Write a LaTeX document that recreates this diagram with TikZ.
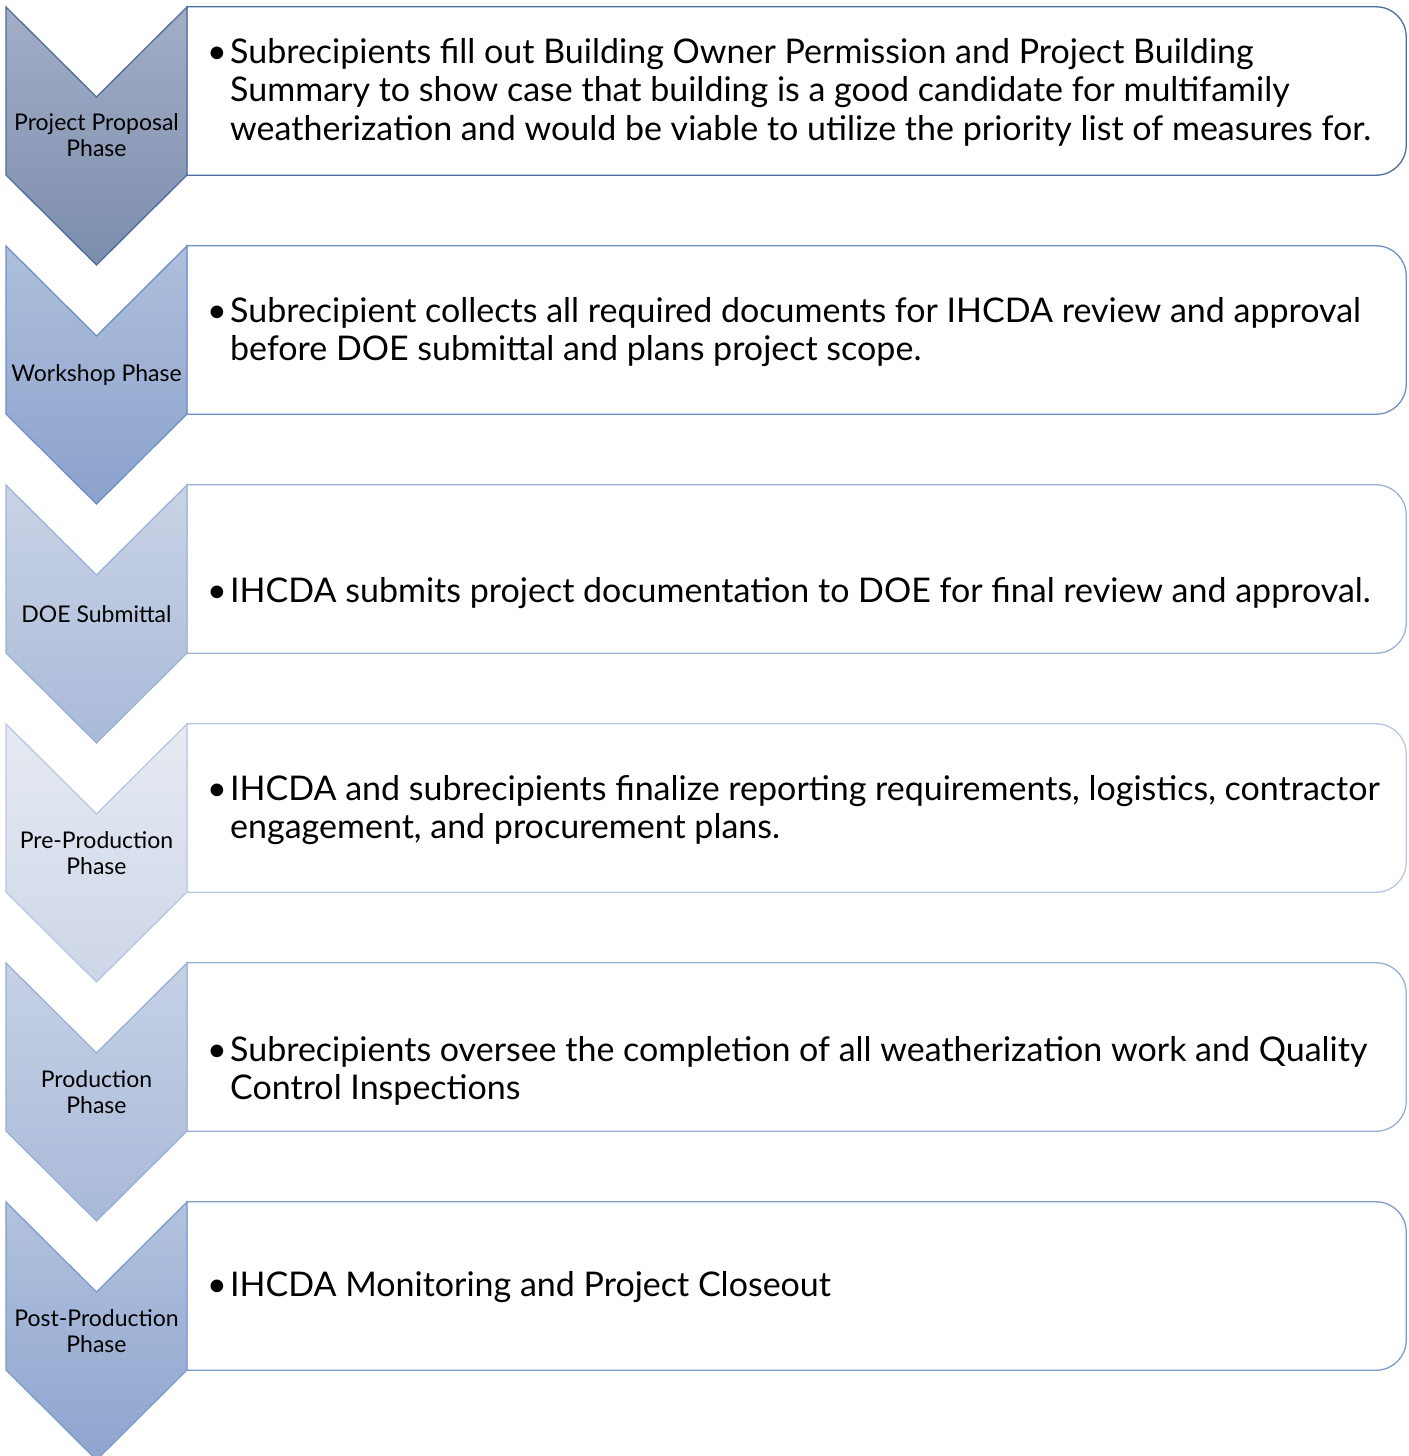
\documentclass[tikz,border=0pt]{standalone}
\usepackage{fontspec}
\setmainfont{Lato}
\usetikzlibrary{positioning}

% chevron fills (top / bottom) and outlines
\definecolor{chevAtop}{HTML}{A3AEC6}\definecolor{chevAbot}{HTML}{7C8DAE}\definecolor{lineA}{HTML}{4F6C9E}
\definecolor{chevBtop}{HTML}{AFBFDC}\definecolor{chevBbot}{HTML}{8BA2CC}\definecolor{lineB}{HTML}{6F8FC8}
\definecolor{chevCtop}{HTML}{C9D3E6}\definecolor{chevCbot}{HTML}{A9BAD8}\definecolor{lineC}{HTML}{9DB2D8}
\definecolor{chevDtop}{HTML}{E6EAF2}\definecolor{chevDbot}{HTML}{CDD6E8}\definecolor{lineD}{HTML}{B8C8E2}
\definecolor{chevEtop}{HTML}{C6D1E5}\definecolor{chevEbot}{HTML}{A8B9D8}\definecolor{lineE}{HTML}{99B0D6}
\definecolor{chevFtop}{HTML}{B3C2DE}\definecolor{chevFbot}{HTML}{8EA5CF}\definecolor{lineF}{HTML}{7F9BCB}

\newcommand{\phaseitem}[1]{\makebox[23pt][l]{\textbullet}\begin{tabular}[t]{@{}l@{}}#1\end{tabular}}

\begin{document}
\begin{tikzpicture}[x=1pt, y=1pt,
        chevron/.style={line width=1.3pt, line join=miter},
        phaselabel/.style={align=center, inner sep=0pt,
            font=\fontsize{23}{26}\selectfont},
        stepbox/.style={minimum width=1219pt, minimum height=168pt, inner sep=0pt},
        boxline/.style={line width=1.3pt, fill=white},
        steptext/.style={anchor=base west, inner sep=0pt,
            font=\fontsize{34}{38.5}\selectfont}]
        \useasboundingbox (0,0) rectangle (1408,-1456);
        %% Boxes
        \node [stepbox] at (796.5,-91) (b1) {};
        \node [stepbox] at (796.5,-330) (b2) {};
        \node [stepbox] at (796.5,-569) (b3) {};
        \node [stepbox] at (796.5,-808) (b4) {};
        \node [stepbox] at (796.5,-1047) (b5) {};
        \node [stepbox] at (796.5,-1286) (b6) {};
        \draw [boxline, draw=lineA] (b1.north west) -- ([xshift=-30pt]b1.north east) arc[start angle=90, end angle=0, radius=30pt]
            -- ([yshift=30pt]b1.south east) arc[start angle=0, end angle=-90, radius=30pt] -- (b1.south west) -- cycle;
        \draw [boxline, draw=lineB] (b2.north west) -- ([xshift=-30pt]b2.north east) arc[start angle=90, end angle=0, radius=30pt]
            -- ([yshift=30pt]b2.south east) arc[start angle=0, end angle=-90, radius=30pt] -- (b2.south west) -- cycle;
        \draw [boxline, draw=lineC] (b3.north west) -- ([xshift=-30pt]b3.north east) arc[start angle=90, end angle=0, radius=30pt]
            -- ([yshift=30pt]b3.south east) arc[start angle=0, end angle=-90, radius=30pt] -- (b3.south west) -- cycle;
        \draw [boxline, draw=lineD] (b4.north west) -- ([xshift=-30pt]b4.north east) arc[start angle=90, end angle=0, radius=30pt]
            -- ([yshift=30pt]b4.south east) arc[start angle=0, end angle=-90, radius=30pt] -- (b4.south west) -- cycle;
        \draw [boxline, draw=lineE] (b5.north west) -- ([xshift=-30pt]b5.north east) arc[start angle=90, end angle=0, radius=30pt]
            -- ([yshift=30pt]b5.south east) arc[start angle=0, end angle=-90, radius=30pt] -- (b5.south west) -- cycle;
        \draw [boxline, draw=lineF] (b6.north west) -- ([xshift=-30pt]b6.north east) arc[start angle=90, end angle=0, radius=30pt]
            -- ([yshift=30pt]b6.south east) arc[start angle=0, end angle=-90, radius=30pt] -- (b6.south west) -- cycle;
        %% Chevrons
        \path [chevron, draw=lineA, top color=chevAtop, bottom color=chevAbot]
            (6,-7) -- (96.5,-97) -- (187,-7) -- (187,-175) -- (96.5,-265) -- (6,-175) -- cycle;
        \path [chevron, draw=lineB, top color=chevBtop, bottom color=chevBbot]
            (6,-246) -- (96.5,-336) -- (187,-246) -- (187,-414) -- (96.5,-504) -- (6,-414) -- cycle;
        \path [chevron, draw=lineC, top color=chevCtop, bottom color=chevCbot]
            (6,-485) -- (96.5,-575) -- (187,-485) -- (187,-653) -- (96.5,-743) -- (6,-653) -- cycle;
        \path [chevron, draw=lineD, top color=chevDtop, bottom color=chevDbot]
            (6,-724) -- (96.5,-814) -- (187,-724) -- (187,-892) -- (96.5,-982) -- (6,-892) -- cycle;
        \path [chevron, draw=lineE, top color=chevEtop, bottom color=chevEbot]
            (6,-963) -- (96.5,-1053) -- (187,-963) -- (187,-1131) -- (96.5,-1221) -- (6,-1131) -- cycle;
        \path [chevron, draw=lineF, top color=chevFtop, bottom color=chevFbot]
            (6,-1202) -- (96.5,-1292) -- (187,-1202) -- (187,-1370) -- (96.5,-1460) -- (6,-1370) -- cycle;
        %% Phase names
        \node [phaselabel] at (96.5,-135) (p1) {Project Proposal\\Phase};
        \node [phaselabel] at (96.5,-375) (p2) {Workshop Phase};
        \node [phaselabel] at (96.5,-614) (p3) {DOE Submittal};
        \node [phaselabel] at (96.5,-853) (p4) {Pre-Production\\Phase};
        \node [phaselabel] at (96.5,-1092) (p5) {Production\\Phase};
        \node [phaselabel] at (96.5,-1331) (p6) {Post-Production\\Phase};
        %% Step texts
        \node [steptext] at (207,-63) (t1) {\phaseitem{Subrecipients fill out Building Owner Permission and Project Building\\
            Summary to show case that building is a good candidate for multifamily\\
            weatherization and would be viable to utilize the priority list of measures for.}};
        \node [steptext] at (207,-322) (t2) {\phaseitem{Subrecipient collects all required documents for IHCDA review and approval\\
            before DOE submittal and plans project scope.}};
        \node [steptext] at (207,-602) (t3) {\phaseitem{IHCDA submits project documentation to DOE for final review and approval.}};
        \node [steptext] at (207,-800) (t4) {\phaseitem{IHCDA and subrecipients finalize reporting requirements, logistics, contractor\\
            engagement, and procurement plans.}};
        \node [steptext] at (207,-1061) (t5) {\phaseitem{Subrecipients oversee the completion of all weatherization work and Quality\\
            Control Inspections}};
        \node [steptext] at (207,-1296) (t6) {\phaseitem{IHCDA Monitoring and Project Closeout}};
    \end{tikzpicture}
\end{document}
